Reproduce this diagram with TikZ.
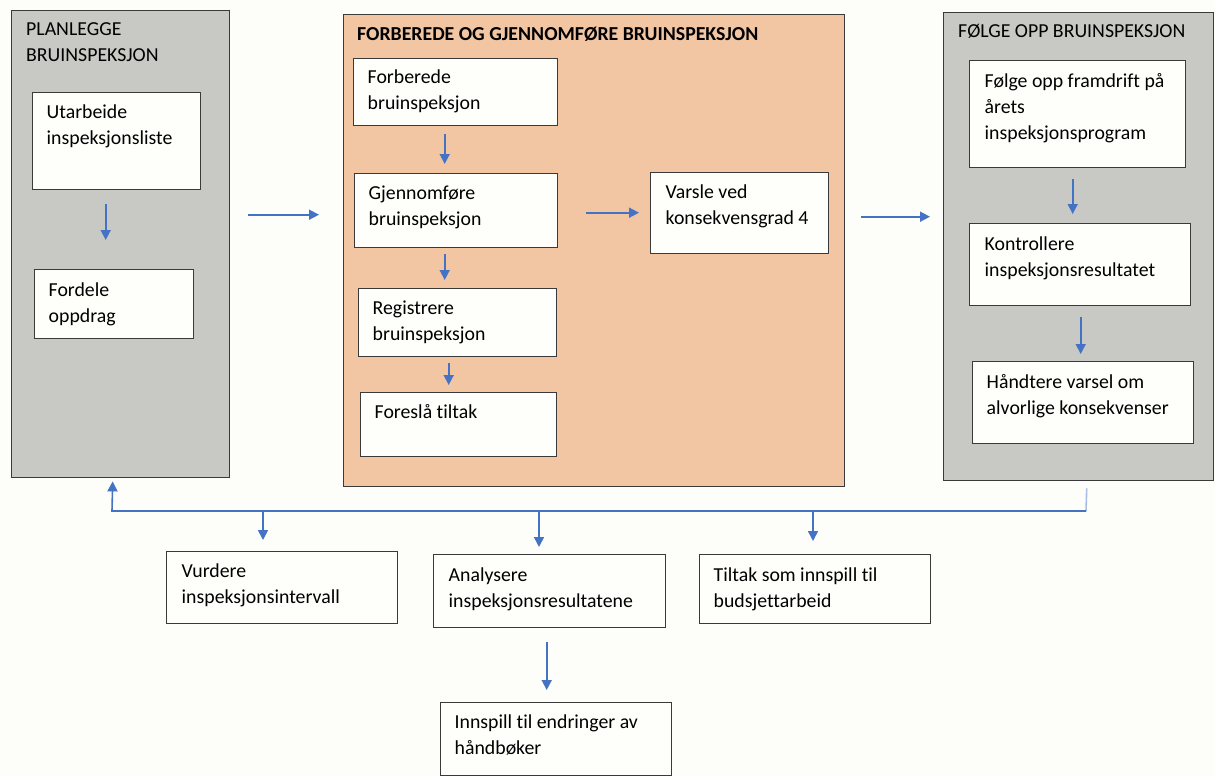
\documentclass[tikz,border=0pt]{standalone}
\usepackage{fontspec}
\setmainfont{Carlito}[Ligatures=NoCommon]
\usetikzlibrary{arrows.meta}
\definecolor{bg}{HTML}{FDFDF9}
\definecolor{panelgray}{HTML}{C8C8C4}
\definecolor{panelorange}{HTML}{F2C6A2}
\definecolor{boxfill}{HTML}{FEFEFB}
\definecolor{edge}{HTML}{3A3A3A}
\definecolor{arrowblue}{HTML}{4472C4}
\definecolor{paleblue}{HTML}{A9BEE6}
\newcommand{\bxtext}[5]{\parbox[c][#2pt][t]{#1pt}{\raggedright\leftskip=#3pt\relax\rule{0pt}{#4pt}#5}}
\begin{document}
\begin{tikzpicture}[x=1pt,y=-1pt,
  font=\fontsize{19.8}{26}\selectfont,
  panel/.style={draw=edge, line width=1.4pt, anchor=north west, inner sep=0pt},
  box/.style={draw=edge, fill=boxfill, line width=1.4pt, anchor=north west, inner sep=0pt},
  ttl/.style={anchor=base west, inner sep=0pt},
  arr/.style={draw=arrowblue, line width=1.6pt, -{Triangle[length=10pt,width=10pt]}},
  feed/.style={draw=paleblue, line width=1.6pt}]
\useasboundingbox (0,0) rectangle (1215,776);
\fill[bg] (0,0) rectangle (1215,776);

% panels
\node[panel, fill=panelgray, minimum width=218pt, minimum height=467pt] (p1) at (11,10) {};
\node[panel, fill=panelorange, minimum width=501pt, minimum height=472pt] (p2) at (343,14) {};
\node[panel, fill=panelgray, minimum width=270pt, minimum height=468pt] (p3) at (943,12) {};

% panel titles
\node[ttl] (t1a) at (26,36) {PLANLEGGE};
\node[ttl] (t1b) at (26,62) {BRUINSPEKSJON};
\node[ttl, font=\fontsize{19.8}{26}\selectfont\bfseries] (t2) at (357,41) {FORBEREDE OG GJENNOMFØRE BRUINSPEKSJON};
\node[ttl] (t3) at (958,38) {FØLGE OPP BRUINSPEKSJON};

% boxes left
\node[box] (u) at (32,92) {\bxtext{168}{97}{14}{26}{Utarbeide\\inspeksjonsliste}};
\node[box] (f) at (34,269) {\bxtext{159}{69}{14}{27}{Fordele\\oppdrag}};

% boxes middle
\node[box] (fb) at (353,58) {\bxtext{204}{67}{14}{25}{Forberede\\bruinspeksjon}};
\node[box] (gj) at (354,173) {\bxtext{203}{74}{14}{26}{Gjennomføre\\bruinspeksjon}};
\node[box] (rg) at (358,288) {\bxtext{198}{68}{14}{26}{Registrere\\bruinspeksjon}};
\node[box] (fs) at (360,392) {\bxtext{196}{64}{14}{26}{Foreslå tiltak}};
\node[box] (vs) at (650,172) {\bxtext{178}{81}{15}{26}{Varsle ved\\konsekvensgrad 4}};

% boxes right
\node[box] (fo) at (969,60) {\bxtext{216}{107}{15}{27}{Følge opp framdrift på\\årets\\inspeksjonsprogram}};
\node[box] (ko) at (969,223) {\bxtext{221}{82}{15}{27}{Kontrollere\\inspeksjonsresultatet}};
\node[box] (ha) at (972,361) {\bxtext{221}{82}{14}{27}{Håndtere varsel om\\alvorlige konsekvenser}};

% boxes bottom
\node[box] (vu) at (166,551) {\bxtext{231}{72}{15}{26}{Vurdere\\inspeksjonsintervall}};
\node[box] (an) at (433,554) {\bxtext{232}{73}{15}{27}{Analysere\\inspeksjonsresultatene}};
\node[box] (ti) at (699,554) {\bxtext{231}{69}{14}{27}{Tiltak som innspill til\\budsjettarbeid}};
\node[box] (in) at (440,702) {\bxtext{231}{73}{14}{26}{Innspill til endringer av\\håndbøker}};

% arrows inside panels
\draw[arr] ([shift={(-11,14)}]u.south) -- ([shift={(-8.5,-29)}]f.north);
\draw[arr] ([shift={(-11,8)}]fb.south) -- ([shift={(-11.5,-9)}]gj.north);
\draw[arr] ([shift={(-11.5,6)}]gj.south) -- ([shift={(-13,-8)}]rg.north);
\draw[arr] ([shift={(-9,6)}]rg.south) -- ([shift={(-10,-7)}]fs.north);
\draw[arr] ([shift={(28,2)}]gj.east) -- ([shift={(-11,-0.5)}]vs.west);
\draw[arr] ([shift={(-5,11)}]fo.south) -- ([shift={(-7.5,-9)}]ko.north);
\draw[arr] ([shift={(0.5,11)}]ko.south) -- ([shift={(-2.5,-7)}]ha.north);

% arrows between panels
\draw[arr] ([shift={(18,-29.5)}]p1.east) -- ([shift={(-24,-36)}]p2.west);
\draw[arr] ([shift={(16,-34)}]p2.east) -- ([shift={(-13,-30)}]p3.west);

% feedback line
\coordinate (jr) at (1086,511);
\coordinate (jl) at (112,511);
\draw[feed] ([shift={(8,7)}]p3.south) -- (jr);
\draw[arr] (jr) -- (jl) -- ([shift={(-8,3)}]p1.south);
\coordinate (d1) at (263,511);
\coordinate (d2) at (539,511);
\coordinate (d3) at (813,511);
\draw[arr, shorten >=11pt] (d1) -- (d1 |- vu.north);
\draw[arr, shorten >=7pt] (d2) -- (d2 |- an.north);
\draw[arr, shorten >=13pt] (d3) -- (d3 |- ti.north);
\draw[arr] ([shift={(-3,14)}]an.south) -- ([shift={(-9.5,-12)}]in.north);
\end{tikzpicture}
\end{document}
